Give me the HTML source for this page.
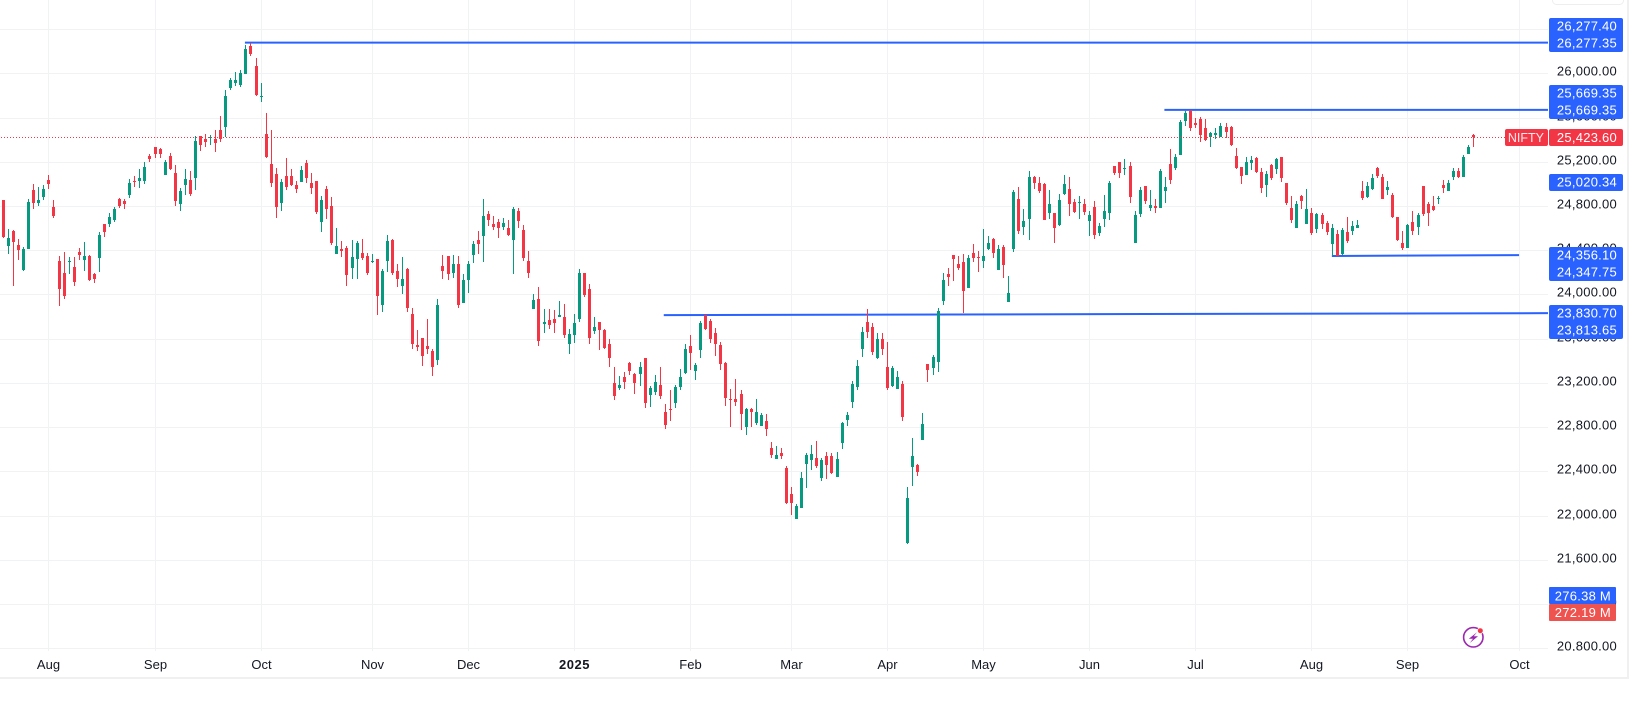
<!DOCTYPE html>
<html lang="en">
<head>
<meta charset="utf-8">
<title>NIFTY daily candlestick chart</title>
<style>
html,body{margin:0;padding:0;background:#fff;width:1638px;height:705px;overflow:hidden}
svg{display:block;font-family:"Liberation Sans",sans-serif}
.lbl{font-size:13px;fill:#fff;letter-spacing:.25px;text-anchor:end}
</style>
</head>
<body>
<svg id="chart" xmlns="http://www.w3.org/2000/svg" width="1638" height="705" viewBox="0 0 1638 705">
  <defs><clipPath id="axis-clip"><rect x="1549" y="0" width="80" height="651"></rect></clipPath></defs>
  <rect x="0" y="0" width="1638" height="705" fill="#ffffff"></rect>
  <rect x="1552.5" y="-10" width="71" height="14.5" rx="4" fill="#fff" stroke="#eeeeee"></rect>
  <g id="grid"></g>
  <g id="ticks" clip-path="url(#axis-clip)"></g>
  <g id="months"></g>
  <g id="rays"></g>
  <g id="candles"></g>
  <line id="last-price-line" stroke="#f23645" stroke-width="1" stroke-dasharray="1 2"></line>

  <g>
    <rect x="1549" y="18" width="74" height="34" rx="2" fill="#2962ff"></rect>
    <text class="lbl" x="1617" y="30.3">26,277.40</text>
    <text class="lbl" x="1617" y="47.3">26,277.35</text>
    <rect x="1549" y="85" width="74" height="34" rx="2" fill="#2962ff"></rect>
    <text class="lbl" x="1617" y="97.3">25,669.35</text>
    <text class="lbl" x="1617" y="114.3">25,669.35</text>
    <rect x="1505" y="129" width="43" height="17" rx="2" fill="#f23645"></rect>
    <text x="1544" y="142" text-anchor="end" font-size="12.5" fill="#fde8ea">NIFTY</text>
    <rect x="1549" y="129" width="74" height="17" rx="2" fill="#f23645"></rect>
    <text class="lbl" x="1617" y="141.8">25,423.60</text>
    <rect x="1549" y="174" width="74" height="17" rx="2" fill="#2962ff"></rect>
    <text class="lbl" x="1617" y="186.6">25,020.34</text>
    <rect x="1549" y="247" width="74" height="34" rx="2" fill="#2962ff"></rect>
    <text class="lbl" x="1617" y="259.6">24,356.10</text>
    <text class="lbl" x="1617" y="276.3">24,347.75</text>
    <rect x="1549" y="305" width="74" height="34" rx="2" fill="#2962ff"></rect>
    <text class="lbl" x="1617" y="317.3">23,830.70</text>
    <text class="lbl" x="1617" y="334.3">23,813.65</text>
    <rect x="1549" y="587" width="67" height="17" rx="1" fill="#2962ff"></rect>
    <text class="lbl" x="1611" y="600.3">276.38 M</text>
    <rect x="1549" y="604" width="67" height="17" rx="1" fill="#ef5350"></rect>
    <text class="lbl" x="1611" y="617">272.19 M</text>
  </g>

  <g>
    <circle cx="1473.3" cy="637.3" r="9.7" fill="none" stroke="#9c27b0" stroke-width="1.6"></circle>
    <path d="M1477 632.2 L1468.8 638.8 L1473 638.8 L1469.8 643 L1478 636.2 L1473.8 636.2 Z" fill="#9c27b0"></path>
    <circle cx="1480.3" cy="630.7" r="3.2" fill="#fff"></circle>
    <circle cx="1480.3" cy="630.7" r="2.5" fill="#f23645"></circle>
  </g>

  <rect x="0" y="677" width="1629" height="2" fill="#f0f0f0"></rect>
  <rect x="1627" y="0" width="2" height="679" fill="#f0f0f0"></rect>
</svg>

<script>
const priceTickValues = [26400,26000,25600,25200,24800,24400,24000,23600,23200,22800,22400,22000,21600,21200,20800];
const priceTickLabels = ["26,400.00","26,000.00","25,600.00","25,200.00","24,800.00","24,400.00","24,000.00","23,600.00","23,200.00","22,800.00","22,400.00","22,000.00","21,600.00","21,200.00","20,800.00"];
const monthLabels = ["Aug","Sep","Oct","Nov","Dec","2025","Feb","Mar","Apr","May","Jun","Jul","Aug","Sep","Oct"];
const monthBars = [9,30,51,73,92,113,136,156,175,194,215,236,259,278,300];
const lastPrice = 25423.6;
const raySymbols = ["ray-all-time-high","ray-2025-high","ray-august-low","ray-support"];
const rayStartBars = [47.8,229.8,262.95,130.7];
const rayEndBars = [307,307,300,307];
const rayStartPrices = [26277.35,25669.35,24347.75,23813.65];
const rayEndPrices = [26277.40,25669.35,24356.10,23830.70];

const highs = [24855,24592,24583,24502,24430,24864,24999,24972,24990,25081,
24855,24348,24384,24339,24339,24421,24475,24357,24195,24565,
24638,24737,24791,24873,24864,25045,25072,25135,25198,25271,
25334,25325,25216,25280,25171,24963,25135,25117,25433,25433,
25451,25442,25488,25613,25848,25957,26011,26029,26255,26277,
26138,25912,25641,25487,25144,25045,25234,25135,25026,25162,
25216,25099,25026,24891,24981,24881,24601,24483,24438,24492,
24483,24502,24375,24366,24321,24230,24538,24502,24275,24339,
24239,23878,23679,23606,23778,23507,23959,24357,24348,24357,
24348,24185,24303,24483,24574,24863,24755,24709,24682,24691,
24673,24791,24782,24628,24393,24004,24068,23869,23869,23860,
23941,23914,23688,23823,24230,24194,24095,23796,23751,23688,
23597,23344,23263,23299,23389,23290,23389,23426,23173,23272,
23345,23010,23137,23182,23327,23553,23634,23381,23761,23815,
23779,23697,23571,23390,23146,23236,23137,22974,22974,23055,
22929,22920,22667,22630,22612,22450,22260,22106,22395,22567,
22640,22676,22522,22576,22567,22576,22847,22938,23218,23408,
23706,23869,23743,23652,23652,23571,23354,23309,23218,22260,
22703,22468,22929,23372,23453,23878,24194,24239,24357,24348,
24366,24357,24456,24393,24592,24529,24510,24447,24447,24167,
24944,24972,24773,25116,25071,25062,25008,24944,24737,24908,
25080,25062,24863,24890,24863,24755,24845,24646,24899,25026,
25161,25198,25225,25198,24755,24972,24981,24944,24863,25134,
25062,25315,25270,25575,25660,25669,25596,25605,25587,25470,
25506,25551,25551,25524,25325,25153,25244,25253,25244,25144,
25117,25180,25235,25244,25009,24891,24846,24900,24954,24782,
24737,24737,24665,24638,24584,24602,24701,24665,24674,25027,
25018,25090,25153,25090,25027,24918,24701,24575,24638,24755,
24737,24981,24837,24891,24891,25035,25035,25144,25144,25262,
25352,25451];

const lows = [24508,24366,24080,24312,24213,24412,24773,24800,24855,24954,
24692,23896,23959,24186,24077,24312,24213,24122,24104,24204,
24520,24611,24656,24782,24773,24873,24972,24963,24999,25198,
25234,25234,25081,25126,24800,24755,24900,24891,24945,25298,
25334,25352,25289,25378,25424,25848,25885,25876,25993,26156,
25794,25740,25234,24971,24692,24755,24945,24981,24918,25017,
25008,24909,24728,24565,24683,24447,24366,24339,24077,24140,
24140,24312,24176,24285,23814,23841,24203,24176,24068,24004,
23841,23507,23489,23353,23462,23263,23362,24140,24131,24149,
23878,23923,24013,24285,24366,24294,24619,24583,24511,24583,
24529,24185,24601,24303,24149,23869,23534,23652,23688,23652,
23796,23606,23462,23561,23751,23977,23552,23643,23498,23507,
23344,23046,23136,23145,23272,23100,23172,22973,22983,23092,
23055,22784,22857,22974,23137,23281,23318,23227,23426,23679,
23562,23444,23318,22992,22802,22992,22775,22730,22802,22820,
22811,22721,22522,22513,22513,22106,22007,21970,22070,22251,
22413,22432,22314,22332,22377,22350,22603,22811,22974,23137,
23435,23607,23453,23417,23453,23137,23164,23146,22857,21745,
22269,22359,22685,23209,23272,23300,23905,24076,24122,24221,
23835,24058,24293,24203,24239,24402,24330,24221,24149,23932,
24384,24547,24538,24492,24954,24917,24673,24682,24465,24619,
24899,24709,24737,24682,24718,24529,24501,24529,24610,24673,
25080,25053,25080,24827,24465,24700,24818,24755,24737,24782,
24827,24999,25125,25262,25524,25479,25506,25379,25388,25334,
25406,25424,25415,25343,25135,24999,25081,25126,25099,24918,
24882,25036,25090,25018,24810,24647,24602,24773,24638,24538,
24556,24593,24538,24348,24348,24358,24466,24538,24602,24855,
24873,24945,25054,24864,24900,24692,24484,24403,24421,24538,
24538,24710,24620,24755,24818,24918,24936,25035,25054,25063,
25271,25334];

const opens = [24855,24439,24574,24448,24222,24412,24945,24828,24882,25035,
24791,24303,24195,24294,24249,24384,24312,24348,24186,24330,
24638,24638,24674,24864,24846,24900,25026,25026,25026,25252,
25334,25316,25081,25252,25099,24818,24990,25035,25054,25433,
25406,25415,25406,25487,25514,25864,25912,25894,25993,26246,
26065,25785,25451,25179,25090,24828,25072,25072,24990,25017,
25189,25008,25026,24656,24954,24800,24366,24411,24420,24239,
24321,24375,24348,24294,24321,23905,24303,24492,24212,24077,
24230,23823,23543,23606,23534,23489,23407,24257,24348,24194,
24275,23923,24131,24357,24492,24529,24728,24637,24655,24610,
24601,24492,24755,24583,24303,23869,23959,23733,23769,23778,
23796,23796,23552,23634,23778,24194,24049,23670,23751,23679,
23552,23199,23154,23254,23380,23281,23281,23426,23092,23119,
23182,22938,22965,23019,23164,23291,23535,23309,23498,23815,
23761,23652,23544,23381,23055,23055,23101,22802,22965,22838,
22811,22857,22612,22513,22567,22432,22196,21970,22070,22468,
22504,22522,22341,22540,22540,22350,22658,22866,23028,23164,
23508,23752,23706,23426,23598,23345,23173,23146,23191,21754,
22441,22459,22685,23372,23336,23390,23941,24185,24357,24275,
24293,24058,24375,24339,24303,24411,24501,24221,24429,23932,
24411,24863,24610,24682,25062,25008,24999,24737,24737,24628,
24908,24954,24836,24827,24818,24664,24791,24556,24682,24737,
25161,25198,25134,25161,24465,24727,24981,24782,24800,24782,
24935,25180,25143,25262,25569,25660,25551,25587,25506,25424,
25443,25424,25515,25515,25253,25153,25081,25189,25235,25108,
24990,25171,25135,25244,25009,24782,24602,24891,24638,24737,
24593,24719,24647,24457,24547,24367,24565,24575,24602,24936,
24882,24954,25144,25063,24945,24900,24701,24466,24421,24656,
24611,24981,24819,24800,24864,24990,24936,25063,25117,25063,
25271,25442];

const closes = [24517,24511,24475,24403,24412,24837,24828,24855,24954,24999,
24710,24050,23987,24303,24113,24357,24348,24131,24140,24538,
24565,24701,24773,24800,24818,25008,25017,25054,25153,25225,
25271,25271,25198,25135,24846,24936,25045,24909,25388,25352,
25379,25424,25370,25405,25794,25939,25939,26002,26219,26174,
25803,25794,25243,25008,24791,25017,24972,24990,24954,25126,
25054,24963,24746,24855,24773,24465,24438,24393,24176,24339,
24465,24330,24194,24303,23986,24212,24483,24194,24140,24140,
23878,23552,23525,23444,23507,23344,23905,24212,24185,24275,
23905,24131,24275,24456,24456,24709,24673,24610,24601,24646,
24538,24773,24664,24330,24194,23950,23579,23751,23724,23742,
23814,23634,23643,23742,24194,23995,23606,23706,23679,23516,
23426,23082,23181,23209,23308,23199,23344,23019,23155,23209,
23083,22820,22956,23164,23254,23508,23471,23363,23743,23688,
23598,23553,23372,23064,23046,23028,22920,22965,22938,22938,
22911,22784,22549,22549,22540,22115,22115,22088,22341,22549,
22558,22450,22504,22459,22386,22513,22838,22911,23191,23354,
23661,23661,23480,23598,23508,23155,23336,23254,22893,22161,
22540,22395,22829,23318,23435,23851,24131,24158,24321,24239,
24031,24330,24330,24330,24348,24465,24375,24411,24266,24013,
24926,24574,24664,25062,25008,24935,24673,24818,24601,24854,
24999,24818,24746,24836,24746,24718,24538,24619,24755,25008,
25098,25098,25143,24881,24718,24944,24845,24809,24782,25116,
24972,25035,25243,25560,25641,25506,25533,25443,25397,25461,
25461,25524,25470,25352,25144,25072,25198,25216,25108,24963,
25090,25054,25226,25054,24828,24674,24819,24846,24773,24556,
24728,24638,24565,24602,24348,24584,24484,24620,24629,24873,
24981,25054,25072,24864,24972,24701,24493,24421,24629,24575,
24719,24728,24737,24764,24873,24963,25008,25117,25063,25243,
25334,25423.6];

const NS = "http://www.w3.org/2000/svg";
const GRID = "#f1f2f4";
const UP = "#089981";
const DOWN = "#f23645";
const PLOT_RIGHT = 1548;
const AXIS_Y = 648;

function yScale(price){ return 73.3 + (26000 - price) * 0.11058; }
function xScale(bar){ return 3.45 + 5.052 * bar; }

function make(tag, parentId){
  const el = document.createElementNS(NS, tag);
  document.getElementById(parentId).appendChild(el);
  return el;
}
function setAll(el, props){
  for (const k in props) el.setAttribute(k, props[k]);
}

priceTickValues.forEach(function(v, i){
  const y = Math.round(yScale(v));
  const line = make("rect", "grid");
  
  
  setAll(line, {x:0, y:y, width:PLOT_RIGHT, height:1, fill:GRID});
  const t = make("text", "ticks");
  
  
  setAll(t, {x:1617, y:y + 2.7, "text-anchor":"end", "font-size":13, "letter-spacing":0.25, fill:"#131722"});
  t.textContent = priceTickLabels[i];
});

monthBars.forEach(function(b, i){
  const x = Math.floor(xScale(b));
  const line = make("rect", "grid");
  
  
  setAll(line, {x:x, y:0, width:1, height:AXIS_Y + 3, fill:GRID});
  const t = make("text", "months");
  
  
  const bold = monthLabels[i] === "2025";
  setAll(t, {x:x + 0.5, y:669, "text-anchor":"middle", "font-size":13, fill:"#131722", "font-weight":bold ? 700 : 400, "letter-spacing":bold ? 0.5 : 0});
  t.textContent = monthLabels[i];
});

raySymbols.forEach(function(name, i){
  const l = make("line", "rays");
  
  
  const endX = Math.min(PLOT_RIGHT, xScale(rayEndBars[i]));
  setAll(l, {x1:xScale(rayStartBars[i]), y1:yScale(rayStartPrices[i]), x2:endX, y2:yScale(rayEndPrices[i]), stroke:"#2962ff", "stroke-width":2});
});

opens.forEach(function(o, i){
  const c = closes[i];
  const col = c < o ? DOWN : UP;
  const x = Math.floor(xScale(i));
  const wick = make("rect", "candles");
  
  
  const wTop = Math.round(yScale(highs[i]));
  const wBot = Math.round(yScale(lows[i]));
  setAll(wick, {x:x, y:wTop, width:1, height:Math.max(1, wBot - wTop), fill:col, "shape-rendering":"crispEdges"});
  const body = make("rect", "candles");
  
  
  const bTop = Math.round(yScale(Math.max(o, c)));
  const bBot = Math.round(yScale(Math.min(o, c)));
  setAll(body, {x:x - 1, y:bTop, width:3, height:Math.max(1, bBot - bTop), fill:col, "shape-rendering":"crispEdges"});
});

const lastLine = document.getElementById("last-price-line");
setAll(lastLine, {x1:1, x2:1505, y1:Math.floor(yScale(lastPrice)) + 0.5, y2:Math.floor(yScale(lastPrice)) + 0.5});
</script>
</body>
</html>
